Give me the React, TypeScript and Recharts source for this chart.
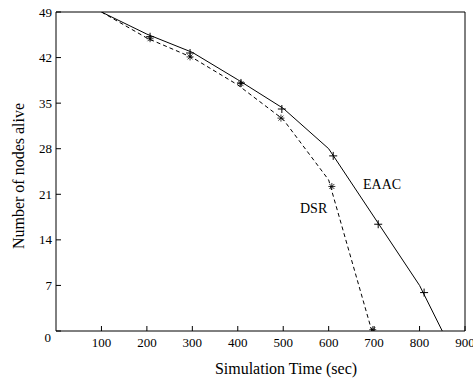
import React from "react";
import {
  ComposedChart,
  Line,
  Scatter,
  XAxis,
  YAxis,
  ReferenceLine,
  Customized,
} from "recharts";

// line vertices
const eaacTime = [100, 200, 300, 400, 500, 600, 800, 850];
const eaacNodes = [49, 45.6, 42.8, 38.6, 34.2, 28, 7, 0];
const dsrTime = [100, 200, 300, 400, 500, 600, 695];
const dsrNodes = [49, 45, 42, 37.8, 32.5, 23.2, 0];

// point markers
const eaacMarkTime = [207, 295, 407, 497, 610, 709, 810];
const eaacMarkNodes = [45.2, 42.7, 38.1, 34.1, 26.9, 16.4, 5.9];
const dsrMarkTime = [207, 295, 407, 495, 607, 697];
const dsrMarkNodes = [44.9, 42.1, 38, 32.7, 22.2, 0.2];

const xTicks = [100, 200, 300, 400, 500, 600, 700, 800, 900];
const yTicks = [0, 7, 14, 21, 28, 35, 42, 49];

const font = '"Liberation Serif", "Times New Roman", serif';

const toPoints = (xs: number[], ys: number[]) =>
  xs.map((x, i) => ({ x, y: ys[i] }));

const eaacLine = toPoints(eaacTime, eaacNodes);
const dsrLine = toPoints(dsrTime, dsrNodes);
const eaacMarks = toPoints(eaacMarkTime, eaacMarkNodes);
const dsrMarks = toPoints(dsrMarkTime, dsrMarkNodes);

function XTick({ x, y, payload }: any) {
  return (
    <g>
      <line x1={x} y1={y} x2={x} y2={y - 5} stroke="#000" />
      <text x={x} y={y + 16} textAnchor="middle" fontSize={13} fontFamily={font} fill="#000">
        {payload.value}
      </text>
    </g>
  );
}

function YTick({ x, y, payload }: any) {
  const zero = payload.value === 0;
  return (
    <g>
      <line x1={x} y1={y} x2={x + 5} y2={y} stroke="#000" />
      <text
        x={zero ? x - 5 : x - 4}
        y={zero ? y + 10.5 : y + 4.5}
        textAnchor="end"
        fontSize={13}
        fontFamily={font}
        fill="#000"
      >
        {payload.value}
      </text>
    </g>
  );
}

const plus = (props: any) => {
  const { cx, cy } = props;
  return (
    <g stroke="#000" strokeWidth={1}>
      <line x1={cx - 4} y1={cy} x2={cx + 4} y2={cy} />
      <line x1={cx} y1={cy - 4} x2={cx} y2={cy + 4} />
    </g>
  );
};

const star = (props: any) => {
  const { cx, cy } = props;
  return (
    <g stroke="#000" strokeWidth={0.8}>
      <line x1={cx - 3.5} y1={cy} x2={cx + 3.5} y2={cy} />
      <line x1={cx} y1={cy - 3.5} x2={cx} y2={cy + 3.5} />
      <line x1={cx - 2.5} y1={cy - 2.5} x2={cx + 2.5} y2={cy + 2.5} />
      <line x1={cx - 2.5} y1={cy + 2.5} x2={cx + 2.5} y2={cy - 2.5} />
    </g>
  );
};

const Labels = () => (
  <g fontFamily={font} fill="#000">
    <text x={363} y={189} fontSize={14}>EAAC</text>
    <text x={300} y={213} fontSize={14}>DSR</text>
    <text x={286} y={374} fontSize={16} textAnchor="middle">Simulation Time (sec)</text>
    <text x={18} y={176} fontSize={16} textAnchor="middle" dominantBaseline="central" transform="rotate(-90 18 176)">
      Number of nodes alive
    </text>
  </g>
);

export default function App() {
  return (
    <div style={{ position: "absolute", left: 0, top: 0, background: "#fff" }}>
      <ComposedChart
        width={473}
        height={383}
        margin={{ top: 12, right: 8, bottom: 0, left: 0 }}
      >
        <XAxis
          type="number"
          dataKey="x"
          domain={[0, 900]}
          ticks={xTicks}
          interval={0}
          height={52}
          tickSize={0}
          tickMargin={0}
          tickLine={false}
          axisLine={{ stroke: "#000" }}
          tick={<XTick />}
          allowDataOverflow
        />
        <YAxis
          type="number"
          dataKey="y"
          domain={[0, 49]}
          ticks={yTicks}
          interval={0}
          width={56}
          tickSize={0}
          tickMargin={0}
          tickLine={false}
          axisLine={{ stroke: "#000" }}
          tick={<YTick />}
          allowDataOverflow
        />
        <ReferenceLine y={49} stroke="#000" ifOverflow="visible" />
        <ReferenceLine x={900} stroke="#000" ifOverflow="visible" />
        <Line
          data={eaacLine}
          dataKey="y"
          stroke="#000"
          strokeWidth={1}
          dot={false}
          isAnimationActive={false}
          type="linear"
        />
        <Line
          data={dsrLine}
          dataKey="y"
          stroke="#000"
          strokeWidth={1}
          strokeDasharray="4 3"
          dot={false}
          isAnimationActive={false}
          type="linear"
        />
        <Scatter data={eaacMarks} dataKey="y" shape={plus} isAnimationActive={false} />
        <Scatter data={dsrMarks} dataKey="y" shape={star} isAnimationActive={false} />
        <Customized component={Labels} />
      </ComposedChart>
    </div>
  );
}
